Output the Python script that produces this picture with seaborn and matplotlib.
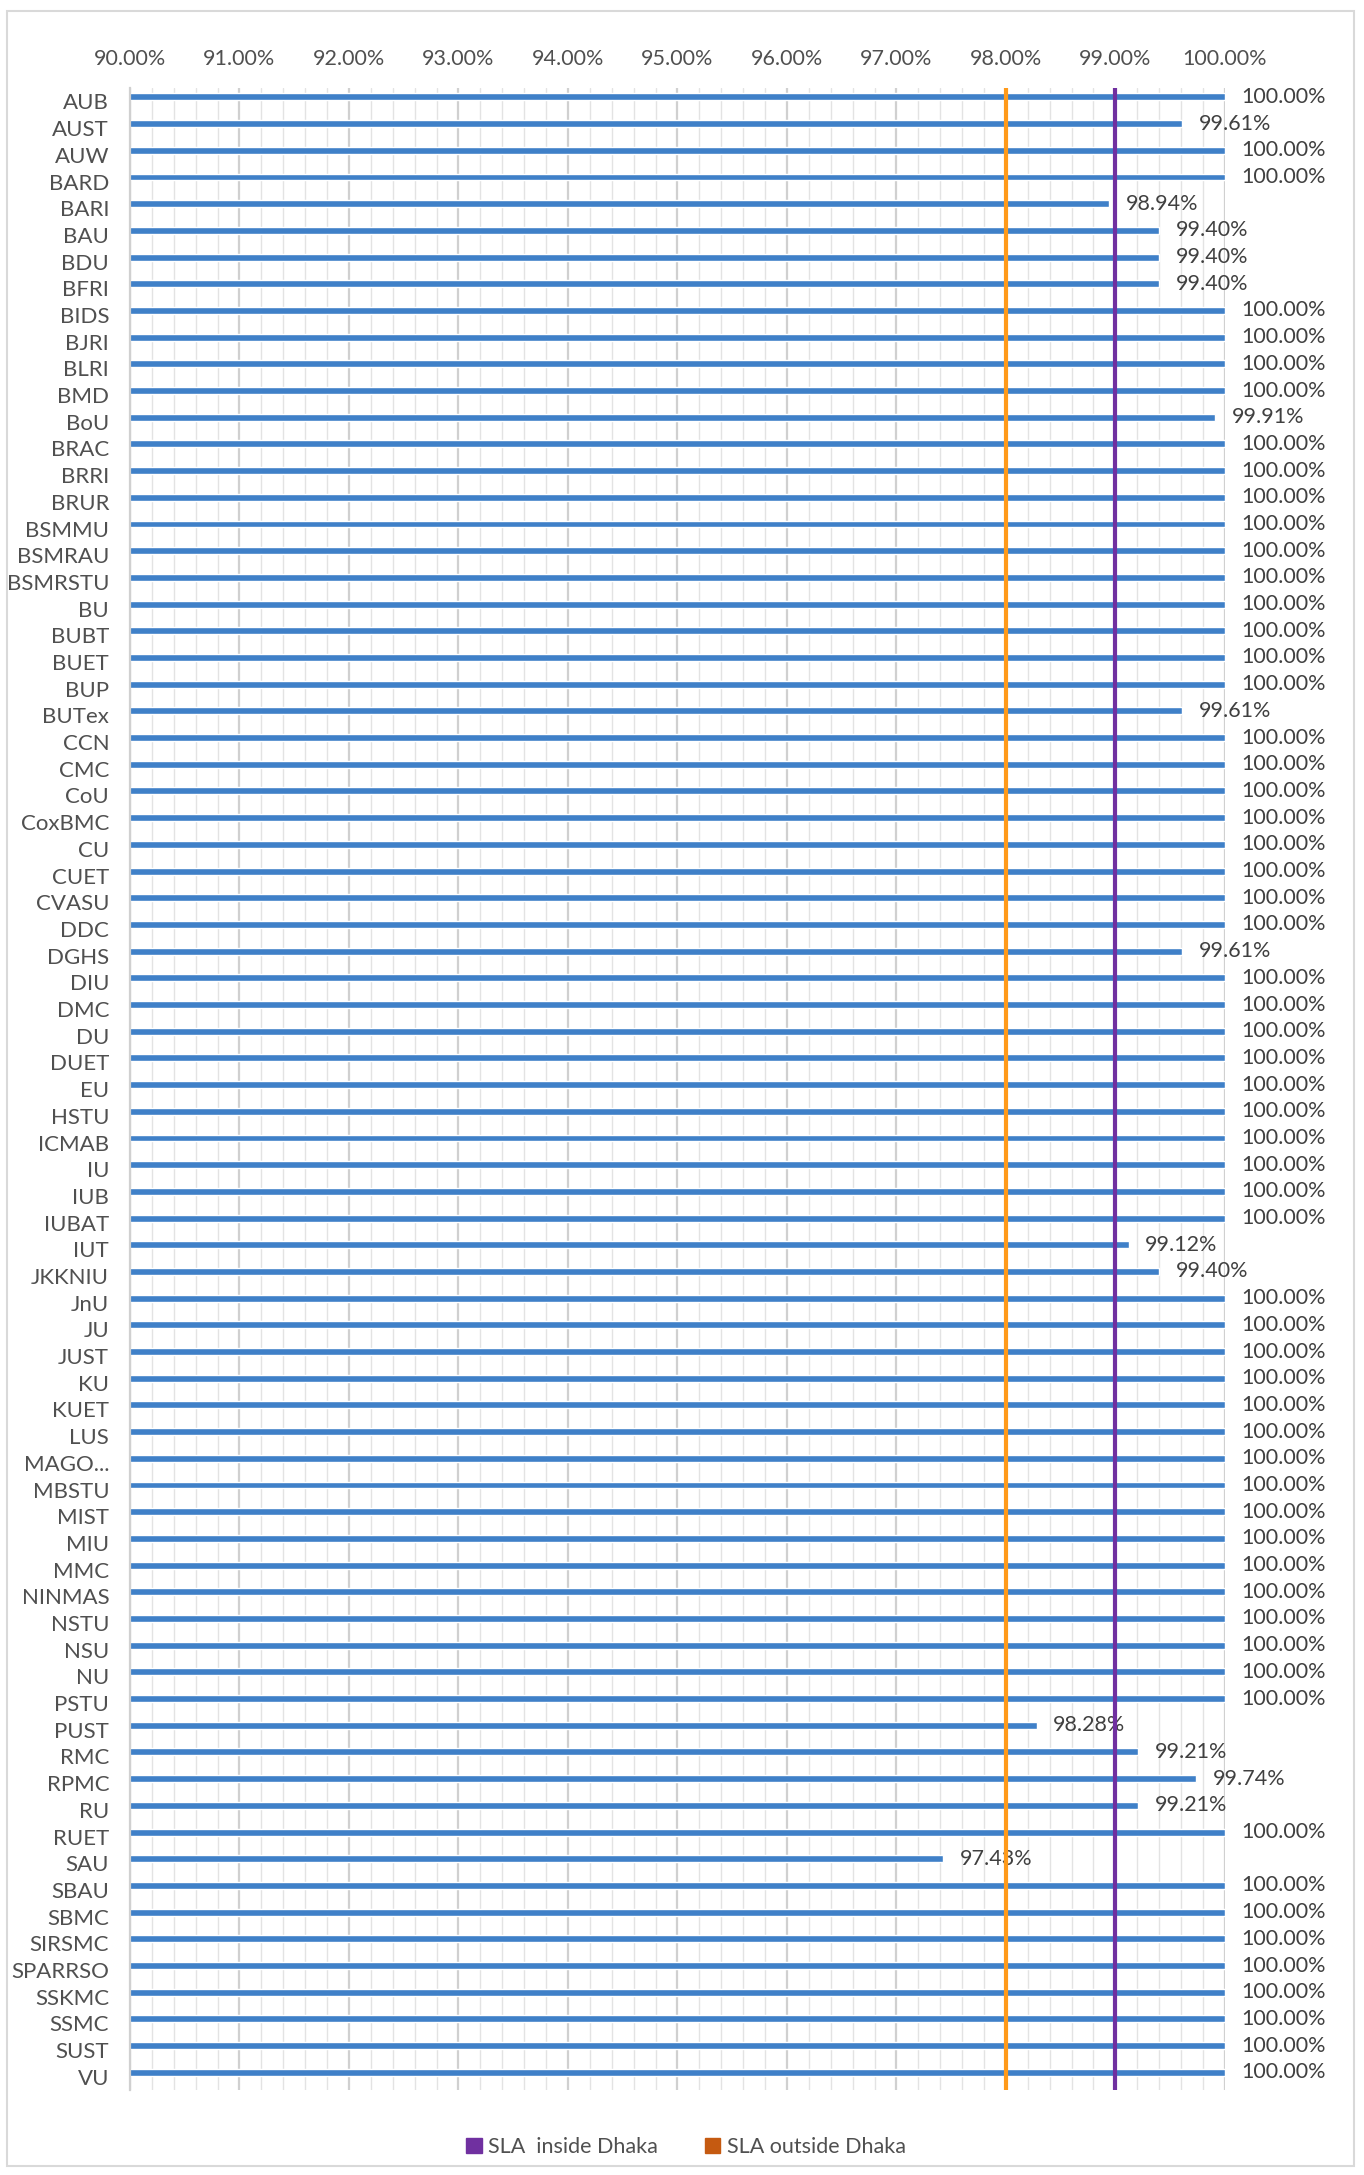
import numpy as np
import pandas as pd
import matplotlib
matplotlib.use('Agg')
import matplotlib.pyplot as plt
import matplotlib.patches as mpatches
import seaborn as sns

# Data
institutes = ['AUB', 'AUST', 'AUW', 'BARD', 'BARI', 'BAU', 'BDU', 'BFRI', 'BIDS', 'BJRI',
              'BLRI', 'BMD', 'BoU', 'BRAC', 'BRRI', 'BRUR', 'BSMMU', 'BSMRAU', 'BSMRSTU', 'BU',
              'BUBT', 'BUET', 'BUP', 'BUTex', 'CCN', 'CMC', 'CoU', 'CoxBMC', 'CU', 'CUET',
              'CVASU', 'DDC', 'DGHS', 'DIU', 'DMC', 'DU', 'DUET', 'EU', 'HSTU', 'ICMAB',
              'IU', 'IUB', 'IUBAT', 'IUT', 'JKKNIU', 'JnU', 'JU', 'JUST', 'KU', 'KUET',
              'LUS', 'MAGO...', 'MBSTU', 'MIST', 'MIU', 'MMC', 'NINMAS', 'NSTU', 'NSU', 'NU',
              'PSTU', 'PUST', 'RMC', 'RPMC', 'RU', 'RUET', 'SAU', 'SBAU', 'SBMC', 'SIRSMC',
              'SPARRSO', 'SSKMC', 'SSMC', 'SUST', 'VU']
uptime = [100.00, 99.61, 100.00, 100.00, 98.94, 99.40, 99.40, 99.40, 100.00, 100.00,
          100.00, 100.00, 99.91, 100.00, 100.00, 100.00, 100.00, 100.00, 100.00, 100.00,
          100.00, 100.00, 100.00, 99.61, 100.00, 100.00, 100.00, 100.00, 100.00, 100.00,
          100.00, 100.00, 99.61, 100.00, 100.00, 100.00, 100.00, 100.00, 100.00, 100.00,
          100.00, 100.00, 100.00, 99.12, 99.40, 100.00, 100.00, 100.00, 100.00, 100.00,
          100.00, 100.00, 100.00, 100.00, 100.00, 100.00, 100.00, 100.00, 100.00, 100.00,
          100.00, 98.28, 99.21, 99.74, 99.21, 100.00, 97.43, 100.00, 100.00, 100.00,
          100.00, 100.00, 100.00, 100.00, 100.00]
sla_inside = 99.0
sla_outside = 98.0
x_ticks = [90, 91, 92, 93, 94, 95, 96, 97, 98, 99, 100]

df = pd.DataFrame({'inst': institutes, 'uptime': uptime})

sns.set_theme(style='white')
plt.rcParams['font.family'] = ['Lato', 'DejaVu Sans']
grey = '#505050'

fig = plt.figure(figsize=(13.64, 21.75), dpi=100)
ax = fig.add_axes([0.0953, 0.039, 0.8027, 0.9205])

sns.barplot(data=df, x='uptime', y='inst', orient='h', color='#3f80c8',
            width=0.26, saturation=1, ax=ax)
# Excel places the bar a little above the category centre
for p in ax.patches:
    p.set_y(p.get_y() - 0.17)

ax.bar_label(ax.containers[0], labels=[f'{v:.2f}%' for v in uptime],
             padding=12, fontsize=15.5, color='#404040')

ax.set_xlim(90, 100)
ax.set_ylim(len(institutes) - 0.5, -0.5)

# grid
for v in np.arange(90, 100.01, 0.2):
    major = abs(v - round(v)) < 1e-6
    ax.axvline(v, color='#d0d0d0' if major else '#e3e3e3', lw=1.6 if major else 1.0, zorder=0)

ax.axvline(sla_outside, color='#ff9a1a', lw=3, zorder=3)
ax.axvline(sla_inside, color='#7030a0', lw=3, zorder=3)

ax.xaxis.tick_top()
ax.set_xticks(x_ticks)
ax.set_xticklabels([f'{t:.2f}%' for t in x_ticks])
ax.tick_params(axis='x', length=0, pad=14, labelsize=15.5, labelcolor=grey)
ax.tick_params(axis='y', length=0, pad=15, labelsize=16, labelcolor=grey)
ax.set_xlabel('')
ax.set_ylabel('')
for s in ['top', 'right', 'bottom']:
    ax.spines[s].set_visible(False)
ax.spines['left'].set_color('#d0d0d0')
ax.spines['left'].set_linewidth(1.6)

handles = [mpatches.Patch(color='#7030a0', label='SLA  inside Dhaka'),
           mpatches.Patch(color='#c55a11', label='SLA outside Dhaka')]
leg = fig.legend(handles=handles, loc='center', bbox_to_anchor=(0.503, 0.0128), ncol=2,
                 frameon=False, fontsize=15.5, handlelength=0.7, handleheight=0.7,
                 handletextpad=0.3, columnspacing=2.2)
for t in leg.get_texts():
    t.set_color(grey)

# outer chart border
fig.patches.append(mpatches.Rectangle((0.005, 0.004), 0.988, 0.991, transform=fig.transFigure,
                                      fill=False, edgecolor='#d9d9d9', lw=1.5))

fig.savefig('out.png', dpi=100)
